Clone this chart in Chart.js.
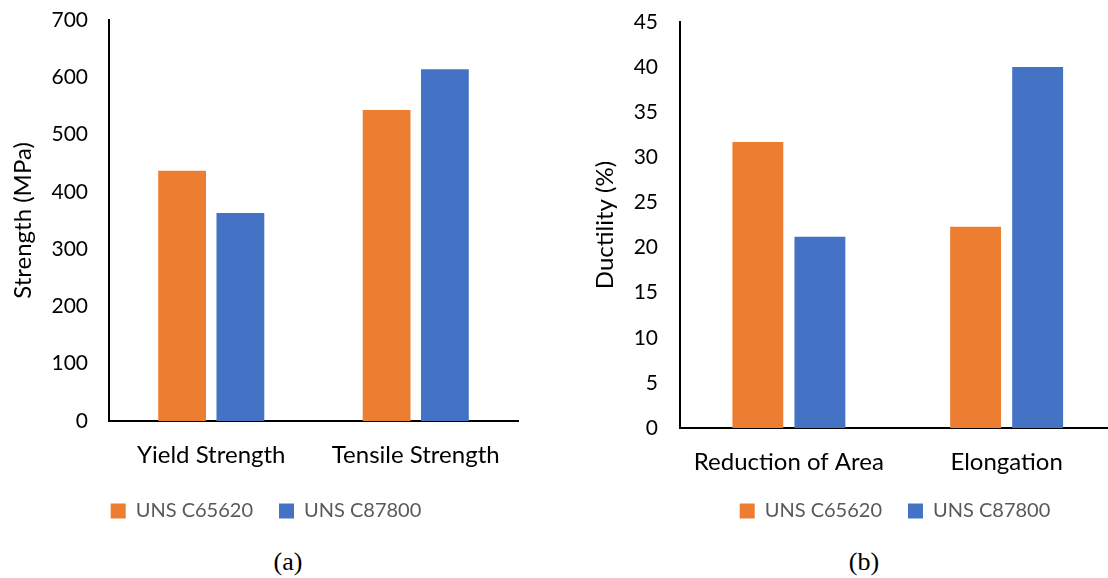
<!DOCTYPE html>
<html>
<head>
<meta charset="utf-8">
<script src="https://cdn.jsdelivr.net/npm/chart.js@4.4.1/dist/chart.umd.min.js"></script>
<style>
  html, body { margin: 0; padding: 0; background: #fff; overflow: hidden; }
  #wrap { position: relative; width: 1108px; height: 578px; overflow: hidden; }
  canvas { position: absolute; top: 0; }
  #chart-a { left: 0; }
  #chart-b { left: 560px; }
  .cap { position: absolute; top: 547px; font-family: 'Liberation Serif', 'Times New Roman', serif;
         font-size: 26px; color: #000; transform: translateX(-50%); line-height: 30px; }
</style>
</head>
<body>
<div id="wrap">
  <canvas id="chart-a" width="532" height="531"></canvas>
  <canvas id="chart-b" width="670" height="531"></canvas>
  <div class="cap" style="left:288px">(a)</div>
  <div class="cap" style="left:864px">(b)</div>
</div>
<script>
// series
const seriesNames = ['UNS C65620', 'UNS C87800'];
const seriesColors = ['#ED7D31', '#4472C4'];

// (a) strength
const strengthCategories = ['Yield Strength', 'Tensile Strength'];
const strengthC65620 = [437, 543];
const strengthC87800 = [363, 614];
const strengthTicks = [0, 100, 200, 300, 400, 500, 600, 700];

// (b) ductility
const ductilityCategories = ['Reduction of Area', 'Elongation'];
const ductilityC65620 = [31.7, 22.3];
const ductilityC87800 = [21.2, 40];
const ductilityTicks = [0, 5, 10, 15, 20, 25, 30, 35, 40, 45];

Chart.defaults.font.family = 'Lato, "Open Sans", sans-serif';
Chart.defaults.color = '#000';
Chart.defaults.animation = false;

// box sizes so both panels line up with the figure
function makeChart(canvasId, categories, a, b, ticks, yTitle, box) {
    const datasets = [a, b].map((data, i) => ({
        label: seriesNames[i],
        data,
        backgroundColor: seriesColors[i],
        borderWidth: 0,
        categoryPercentage: 0.57,
        barPercentage: 0.82
    }));

    return new Chart(document.getElementById(canvasId), {
        type: 'bar',
        data: { labels: categories, datasets },
        options: {
            responsive: false,
            devicePixelRatio: 1,
            layout: { padding: { top: box.padTop, left: 0, right: 0, bottom: 0 } },
            plugins: {
                tooltip: { enabled: false },
                legend: {
                    position: 'bottom',
                    labels: {
                        boxWidth: 15, boxHeight: 15, padding: 26,
                        color: '#595959', font: { size: 20 }
                    }
                }
            },
            scales: {
                x: {
                    grid: { display: false, drawTicks: false },
                    border: { display: true, color: '#000', width: 2 },
                    ticks: { padding: 20, color: '#000', font: { size: 24 } },
                    afterFit: s => { s.height = box.xHeight; }
                },
                y: {
                    min: ticks[0],
                    max: ticks[ticks.length - 1],
                    grid: { display: false, drawTicks: false },
                    border: { display: true, color: '#000', width: 2 },
                    ticks: { stepSize: ticks[1] - ticks[0], padding: box.tickPad, color: '#000', font: { size: 21 } },
                    title: {
                        display: true, text: yTitle, color: '#000',
                        font: { size: 24 }, padding: { top: box.titleTop, bottom: 0 }
                    },
                    afterFit: s => {
                        s.width = box.yWidth;
                        s.paddingTop = 0;
                        s.paddingBottom = 0;
                    }
                },
                // empty strip on the right so the legend centres like the original
                gap: {
                    position: 'right',
                    grid: { display: false, drawTicks: false },
                    border: { display: false },
                    ticks: { display: false },
                    afterFit: s => {
                        s.width = box.rightGap;
                        s.paddingTop = 0;
                        s.paddingBottom = 0;
                    }
                }
            }
        }
    });
}

makeChart('chart-a', strengthCategories, strengthC65620, strengthC87800, strengthTicks,
    'Strength (MPa)', { padTop: 20, yWidth: 109, tickPad: 21, titleTop: 9, rightGap: 14, xHeight: 54 });
makeChart('chart-b', ductilityCategories, ductilityC65620, ductilityC87800, ductilityTicks,
    'Ductility (%)', { padTop: 22, yWidth: 120, tickPad: 22, titleTop: 31, rightGap: 114.5, xHeight: 47 });
</script>
</body>
</html>
